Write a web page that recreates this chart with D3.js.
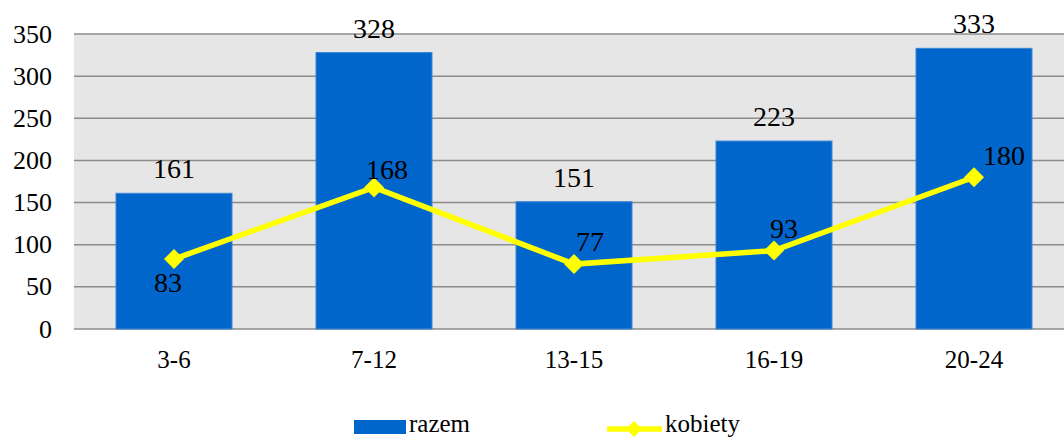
<!DOCTYPE html>
<html>
<head>
<meta charset="utf-8">
<script src="https://d3js.org/d3.v7.min.js"></script>
<style>
  body { margin: 0; background: #fff; }
</style>
</head>
<body>
<svg id="chart" width="1064" height="438" style="font-family: 'Liberation Serif', 'Times New Roman', Tinos, 'DejaVu Serif', serif;"></svg>
<script>
const categories = ["3-6", "7-12", "13-15", "16-19", "20-24"];
const razem = [161, 328, 151, 223, 333];
const kobiety = [83, 168, 77, 93, 180];
const yTicks = [0, 50, 100, 150, 200, 250, 300, 350];

const svg = d3.select("#chart");
const plotLeft = 74, plotRight = 1074, plotTop = 34, plotBottom = 329;
const serif = "'Liberation Serif', 'Times New Roman', serif";

const x = d3.scaleBand().domain(categories).range([plotLeft, plotRight]).paddingInner(0.42).paddingOuter(0.21);
const band = d3.scaleBand().domain(categories).range([plotLeft, plotRight]);
const y = d3.scaleLinear().domain([0, 350]).range([plotBottom, plotTop]);

// plot background
svg.append("rect")
  .attr("x", plotLeft).attr("y", plotTop)
  .attr("width", plotRight - plotLeft).attr("height", plotBottom - plotTop)
  .attr("fill", "#e6e6e6");

// gridlines
svg.selectAll(".grid").data(yTicks).enter().append("line")
  .attr("x1", plotLeft).attr("x2", plotRight)
  .attr("y1", d => y(d)).attr("y2", d => y(d))
  .attr("stroke", "#8c8c8c").attr("stroke-width", 1.5);

// y tick labels
svg.selectAll(".ytick").data(yTicks).enter().append("text")
  .attr("x", 52).attr("y", d => y(d) + 8.5)
  .attr("text-anchor", "end")
  .attr("font-family", serif)
  .attr("font-size", 26)
  .text(d => d);

// bars
svg.selectAll(".bar").data(razem).enter().append("rect")
  .attr("x", (d, i) => x(categories[i]))
  .attr("y", d => y(d))
  .attr("width", x.bandwidth())
  .attr("height", d => plotBottom - y(d))
  .attr("fill", "#0066cc")
  .attr("stroke", "#3c86d2").attr("stroke-width", 1);

// bar labels
svg.selectAll(".barlab").data(razem).enter().append("text")
  .attr("x", (d, i) => band(categories[i]) + band.bandwidth() / 2)
  .attr("y", d => y(d) - 15)
  .attr("text-anchor", "middle")
  .attr("font-family", serif)
  .attr("font-size", 28)
  .text(d => d);

// x axis labels
svg.selectAll(".xlab").data(categories).enter().append("text")
  .attr("x", d => band(d) + band.bandwidth() / 2)
  .attr("y", 368)
  .attr("text-anchor", "middle")
  .attr("font-family", serif)
  .attr("font-size", 25)
  .text(d => d);

// line
const cx = i => band(categories[i]) + band.bandwidth() / 2;
const line = d3.line().x((d, i) => cx(i)).y(d => y(d));
svg.append("path")
  .datum(kobiety)
  .attr("d", line)
  .attr("fill", "none")
  .attr("stroke", "#ffff00")
  .attr("stroke-width", 5.5);

const marker = d3.symbol().type(d3.symbolSquare).size(200);
svg.selectAll(".pt").data(kobiety).enter().append("path")
  .attr("d", marker)
  .attr("transform", (d, i) => "translate(" + cx(i) + "," + y(d) + ") rotate(45)")
  .attr("fill", "#ffff00");

// line labels
const labOff = [[-6, 33], [13, -8], [16, -13], [10, -13], [30, -12]];
svg.selectAll(".linelab").data(kobiety).enter().append("text")
  .attr("x", (d, i) => cx(i) + labOff[i][0])
  .attr("y", (d, i) => y(d) + labOff[i][1])
  .attr("text-anchor", "middle")
  .attr("font-family", serif)
  .attr("font-size", 28)
  .text(d => d);

// legend
svg.append("rect").attr("x", 354).attr("y", 420).attr("width", 52).attr("height", 14).attr("fill", "#0066cc");
svg.append("text").attr("x", 409).attr("y", 432)
  .attr("font-family", serif).attr("font-size", 25).text("razem");
svg.append("line").attr("x1", 607).attr("x2", 662).attr("y1", 429).attr("y2", 429)
  .attr("stroke", "#ffff00").attr("stroke-width", 5.5);
svg.append("path").attr("d", d3.symbol().type(d3.symbolSquare).size(130))
  .attr("transform", "translate(634,429) rotate(45)").attr("fill", "#ffff00");
svg.append("text").attr("x", 665).attr("y", 432)
  .attr("font-family", serif).attr("font-size", 25).text("kobiety");
</script>
</body>
</html>
